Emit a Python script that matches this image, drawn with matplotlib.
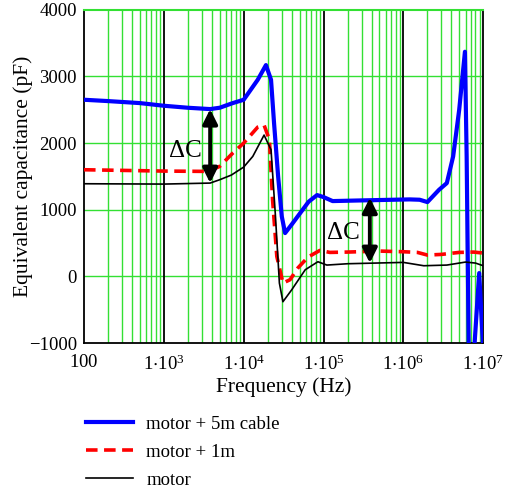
# Equivalent capacitance vs frequency for motor with/without cable
import numpy as np
import matplotlib
matplotlib.use("Agg")
import matplotlib.pyplot as plt
from matplotlib.lines import Line2D

plt.rcParams['font.family'] = ['Liberation Serif', 'DejaVu Serif']
plt.rcParams['mathtext.fontset'] = 'custom'
plt.rcParams['mathtext.rm'] = 'Liberation Serif'

# data
f_cable = [100, 200, 500, 1e3, 2e3, 3.8e3, 5e3, 7.3e3, 1e4, 1.5e4, 1.9e4, 2.2e4, 2.4e4,
           2.7e4, 3e4, 3.3e4, 4e4, 5.1e4, 6.5e4, 8.3e4, 1e5, 1.3e5, 3e5, 7.5e5, 1.2e6,
           1.6e6, 2e6, 2.8e6, 3.5e6, 4.2e6, 5e6, 5.9e6, 6.2e6, 6.6e6, 7.7e6, 8.9e6, 1e7]
c_cable = [2650, 2630, 2600, 2560, 2530, 2510, 2530, 2600, 2650, 2950, 3170, 2950, 2300,
           1500, 900, 650, 780, 950, 1120, 1220, 1190, 1130, 1140, 1150, 1155,
           1150, 1115, 1300, 1400, 1800, 2500, 3370, 1800, -1200, -1100, 50, -1100]

f_1m = [100, 1e3, 3.6e3, 5e3, 7.3e3, 1e4, 1.5e4, 1.8e4, 2.1e4, 2.3e4, 2.6e4, 3.1e4,
        3.8e4, 4.8e4, 6.4e4, 9e4, 1.2e5, 2e5, 5e5, 1e6, 1.5e6, 2e6, 3e6, 5e6, 7.6e6, 1e7]
c_1m = [1600, 1580, 1575, 1650, 1850, 2000, 2240, 2270, 2050, 1150, 300, -100,
        -50, 130, 290, 390, 360, 365, 380, 370, 360, 320, 330, 360, 365, 350]

f_motor = [100, 1e3, 3.8e3, 5e3, 7e3, 1e4, 1.3e4, 1.8e4, 2.2e4, 2.5e4, 2.8e4, 3.1e4,
           4e4, 5.9e4, 8.5e4, 1.1e5, 2e5, 1e6, 1.8e6, 3.5e6, 6e6, 8e6, 1e7]
c_motor = [1390, 1385, 1400, 1450, 1520, 1640, 1800, 2120, 1900, 900, -100, -380,
           -200, 100, 220, 170, 190, 210, 160, 170, 215, 200, 160]

arrow_f = [3.8e3, 3.8e5]
arrow_top = [2510, 1180]
arrow_bot = [1400, 200]
label_pos = [(1.85e3, 1880), (1.78e5, 650)]

xtick_vals = [1e2, 1e3, 1e4, 1e5, 1e6, 1e7]
xtick_labels = [r'$\mathregular{100}$'] + \
    [r'$\mathregular{1{\cdot}10^{%d}}$' % e for e in range(3, 8)]
ytick_vals = [-1000, 0, 1000, 2000, 3000, 4000]
ytick_labels = ['\u22121000', '0', '1000', '2000', '3000', '4000']

green = '#33e033'

fig = plt.figure(figsize=(5.06, 4.88), dpi=100)
ax = fig.add_axes([0.166, 0.297, 0.789, 0.683])

# grid: green minor decades, black decade lines
for d in range(2, 7):
    base = 10.0 ** d
    for k in range(2, 10):
        ax.axvline(base * k, color=green, lw=1, zorder=0)
for d in range(3, 7):
    ax.axvline(10.0 ** d, color='black', lw=1.3, zorder=1)
for v in ytick_vals[1:-1]:
    ax.axhline(v, color=green, lw=1, zorder=0)

ax.plot(f_cable, c_cable, color='#0000ff', lw=3, zorder=3)
ax.plot(f_1m, c_1m, color='#ff0000', lw=2.6, dashes=(3.2, 1.8), zorder=3)
ax.plot(f_motor, c_motor, color='black', lw=1.2, zorder=3)

for fx, yt, yb in zip(arrow_f, arrow_top, arrow_bot):
    ax.annotate('', xy=(fx, yt), xytext=(fx, yb),
                arrowprops=dict(arrowstyle='<|-|>', color='black', lw=2.8,
                                mutation_scale=22, shrinkA=0, shrinkB=0), zorder=4)
for fx, fy in label_pos:
    ax.text(fx, fy, '\u0394C', fontsize=18, ha='center', va='center', zorder=4)

ax.set_xscale('log')
ax.set_xlim(100, 1e7)
ax.set_ylim(-1000, 4000)
ax.set_xticks(xtick_vals)
ax.set_xticklabels(xtick_labels, fontsize=13.5)
ax.set_xticks([], minor=True)
ax.set_yticks(ytick_vals)
ax.set_yticklabels(ytick_labels, fontsize=13.5)
ax.tick_params(length=0)
ax.tick_params(axis='x', pad=8)
ax.tick_params(axis='y', pad=5)

for s in ['left', 'bottom', 'right']:
    ax.spines[s].set_color('black')
    ax.spines[s].set_linewidth(1.3)
ax.spines['top'].set_color(green)
ax.spines['top'].set_linewidth(1.5)

ax.set_xlabel('Frequency (Hz)', fontsize=15.5, labelpad=3)
ax.set_ylabel('Equivalent capacitance (pF)', fontsize=15.5)
ax.yaxis.set_label_coords(-0.128, 0.5)

handles = [Line2D([], [], color='#0000ff', lw=3),
           Line2D([], [], color='#ff0000', lw=2.6, dashes=(3.2, 1.8)),
           Line2D([], [], color='black', lw=1.2)]
labels = ['motor + 5m cable', 'motor + 1m', 'motor']
fig.legend(handles, labels, loc='upper left', bbox_to_anchor=(0.137, 0.183),
           frameon=False, fontsize=13.5, handlelength=2.5, handletextpad=0.7,
           labelspacing=0.58)

fig.savefig('out.png', dpi=100)
